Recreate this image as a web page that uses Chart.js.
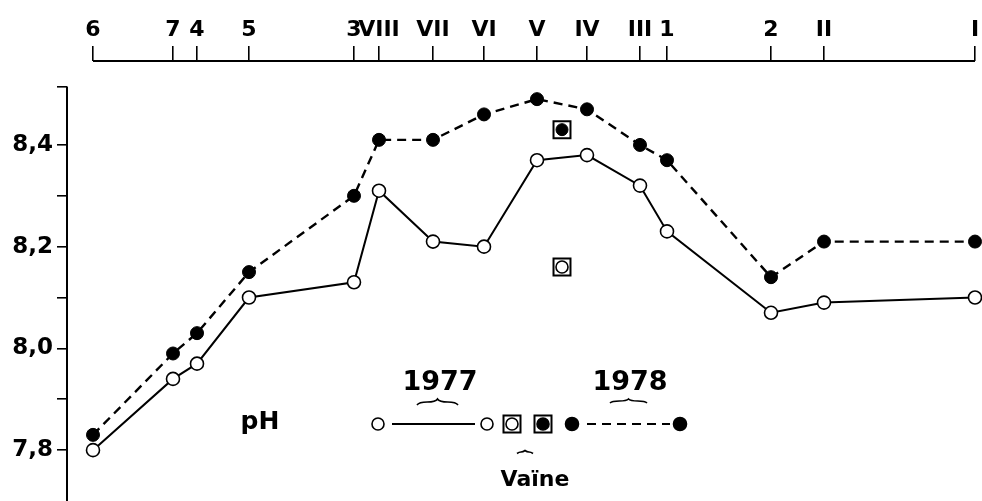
<!DOCTYPE html>
<html>
<head>
<meta charset="utf-8">
<script src="https://cdn.jsdelivr.net/npm/chart.js@4/dist/chart.umd.min.js"></script>
<style>
  html, body { margin: 0; padding: 0; background: #fff; overflow: hidden; }
  #wrap { width: 982px; height: 501px; }
</style>
</head>
<body>
<div id="wrap"><canvas id="phChart" width="982" height="501"></canvas></div>
<script>
// Stations along the profile (position in arbitrary distance units)
const stations = ['6', '7', '4', '5', '3', 'VIII', 'VII', 'VI', 'V', 'IV', 'III', '1', '2', 'II', 'I'];
const stationPos = [0, 80, 104, 156, 261, 286, 340, 391, 444, 494, 547, 574, 678, 731, 882];

// pH values, 1977 (open circles) and 1978 (filled circles)
const ph1977 = [7.80, 7.94, 7.97, 8.10, 8.13, 8.31, 8.21, 8.20, 8.37, 8.38, 8.32, 8.23, 8.07, 8.09, 8.10];
const ph1978 = [7.83, 7.99, 8.03, 8.15, 8.30, 8.41, 8.41, 8.46, 8.49, 8.47, 8.40, 8.37, 8.14, 8.21, 8.21];

// Vaïne
const vainePos = 469;
const vaine1977 = 8.16;
const vaine1978 = 8.43;

// y axis ticks
const yTicks = [7.8, 7.9, 8.0, 8.1, 8.2, 8.3, 8.4, 8.515];
const yTickLabels = ['7,8', '', '8,0', '', '8,2', '', '8,4', ''];

const FONT = 'DejaVu Sans';

function brace(ctx, x1, x2, y, h) {
    const xm = (x1 + x2) / 2;
    ctx.beginPath();
    ctx.moveTo(x1, y + h);
    ctx.quadraticCurveTo(x1 + 2, y, x1 + (xm - x1) * 0.5, y);
    ctx.quadraticCurveTo(xm - 2, y, xm, y - h);
    ctx.quadraticCurveTo(xm + 2, y, xm + (x2 - xm) * 0.5, y);
    ctx.quadraticCurveTo(x2 - 2, y, x2, y + h);
    ctx.stroke();
}

function circle(ctx, x, y, r, filled) {
    ctx.beginPath();
    ctx.arc(x, y, r, 0, Math.PI * 2);
    ctx.fillStyle = filled ? '#000' : '#fff';
    ctx.fill();
    ctx.lineWidth = 1.6;
    ctx.stroke();
}

function framed(ctx, x, y, filled) {
    ctx.lineWidth = 2;
    ctx.fillStyle = '#fff';
    ctx.fillRect(x - 8.5, y - 8.5, 17, 17);
    ctx.strokeRect(x - 8.5, y - 8.5, 17, 17);
    circle(ctx, x, y, 6, filled);
}

// axis lines + key drawn on top
const extras = {
    id: 'extras',
    afterDraw(chart) {
        const { ctx, chartArea, scales: { x, y } } = chart;
        ctx.save();
        ctx.strokeStyle = '#000';
        ctx.lineWidth = 2;
        // top axis line
        ctx.beginPath();
        ctx.moveTo(x.getPixelForValue(stationPos[0]), chartArea.top);
        ctx.lineTo(x.getPixelForValue(stationPos[stationPos.length - 1]), chartArea.top);
        ctx.stroke();
        // left axis line
        ctx.beginPath();
        ctx.moveTo(chartArea.left, y.getPixelForValue(yTicks[yTicks.length - 1]));
        ctx.lineTo(chartArea.left, chartArea.bottom);
        ctx.stroke();

        // key
        ctx.fillStyle = '#000';
        ctx.textAlign = 'center';
        ctx.textBaseline = 'middle';
        ctx.font = 'bold 27px "' + FONT + '"';
        ctx.fillText('1977', 440, 383);
        ctx.fillText('1978', 630, 383);
        ctx.font = 'bold 25px "' + FONT + '"';
        ctx.fillText('pH', 260, 422);
        ctx.font = 'bold 22px "' + FONT + '"';
        ctx.fillText('Vaïne', 535, 480);

        ctx.lineWidth = 1.6;
        brace(ctx, 417, 458, 402, 3);
        brace(ctx, 610, 647, 401, 2);
        brace(ctx, 517, 533, 452, 1.5);

        const ky = 424;
        ctx.lineWidth = 2;
        ctx.beginPath();
        ctx.moveTo(392, ky);
        ctx.lineTo(475, ky);
        ctx.stroke();
        ctx.setLineDash([9, 6]);
        ctx.beginPath();
        ctx.moveTo(587, ky);
        ctx.lineTo(670, ky);
        ctx.stroke();
        ctx.setLineDash([]);
        circle(ctx, 378, ky, 6, false);
        circle(ctx, 487, ky, 6, false);
        framed(ctx, 512, ky, false);
        framed(ctx, 543, ky, true);
        circle(ctx, 572, ky, 6.5, true);
        circle(ctx, 680, ky, 6.5, true);
        ctx.restore();
    }
};

const pts = (ys) => ys.map((v, i) => ({ x: stationPos[i], y: v }));

const ctx = document.getElementById('phChart').getContext('2d');
const phChart = new Chart(ctx, {
    type: 'line',
    data: {
        datasets: [{
            label: 'Vaïne 1977',
            data: [{ x: vainePos, y: vaine1977 }],
            showLine: false,
            pointRadius: 6,
            pointBackgroundColor: '#fff',
            pointBorderColor: '#000',
            pointBorderWidth: 1.6,
            clip: false
        }, {
            label: 'Vaïne 1978',
            data: [{ x: vainePos, y: vaine1978 }],
            showLine: false,
            pointRadius: 6,
            pointBackgroundColor: '#000',
            pointBorderColor: '#000',
            pointBorderWidth: 1,
            clip: false
        }, {
            label: 'Vaïne frame',
            data: [{ x: vainePos, y: vaine1977 }, { x: vainePos, y: vaine1978 }],
            showLine: false,
            pointStyle: 'rect',
            pointRadius: 12,
            pointBackgroundColor: '#fff',
            pointBorderColor: '#000',
            pointBorderWidth: 2,
            clip: false
        }, {
            label: '1977',
            data: pts(ph1977),
            borderColor: '#000',
            borderWidth: 2,
            pointRadius: 6.5,
            pointBackgroundColor: '#fff',
            pointBorderColor: '#000',
            pointBorderWidth: 1.6,
            clip: false
        }, {
            label: '1978',
            data: pts(ph1978),
            borderColor: '#000',
            borderWidth: 2.4,
            borderDash: [9, 6],
            pointRadius: 6.5,
            pointBackgroundColor: '#000',
            pointBorderColor: '#000',
            pointBorderWidth: 1,
            clip: false
        }]
    },
    options: {
        responsive: false,
        animation: false,
        layout: { autoPadding: false, padding: { left: 0, top: 0, right: 7, bottom: 0 } },
        plugins: { legend: { display: false }, tooltip: { enabled: false } },
        scales: {
            x: {
                type: 'linear',
                position: 'top',
                min: -26,
                max: 882,
                afterBuildTicks: (scale) => { scale.ticks = stationPos.map(v => ({ value: v })); },
                afterFit: (scale) => { scale.height = 61; scale.paddingLeft = 0; scale.paddingRight = 0; },
                border: { display: false },
                grid: { drawOnChartArea: false, drawTicks: true, tickLength: 15, color: '#000', lineWidth: 1.6 },
                ticks: {
                    autoSkip: false,
                    maxRotation: 0,
                    minRotation: 0,
                    padding: 3,
                    color: '#000',
                    font: { family: FONT, weight: 'bold', size: 22 },
                    callback: (v, i) => stations[i]
                }
            },
            y: {
                type: 'linear',
                min: 7.7,
                max: 8.565,
                afterBuildTicks: (scale) => { scale.ticks = yTicks.map(v => ({ value: v })); },
                afterFit: (scale) => { scale.width = 67; scale.paddingTop = 0; scale.paddingBottom = 0; },
                border: { display: false },
                grid: { drawOnChartArea: false, drawTicks: true, tickLength: 10, color: '#000', lineWidth: 1.6 },
                ticks: {
                    autoSkip: false,
                    padding: 4,
                    color: '#000',
                    font: { family: FONT, weight: 'bold', size: 23 },
                    callback: (v, i) => yTickLabels[i]
                }
            }
        }
    },
    plugins: [extras]
});
</script>
</body>
</html>
